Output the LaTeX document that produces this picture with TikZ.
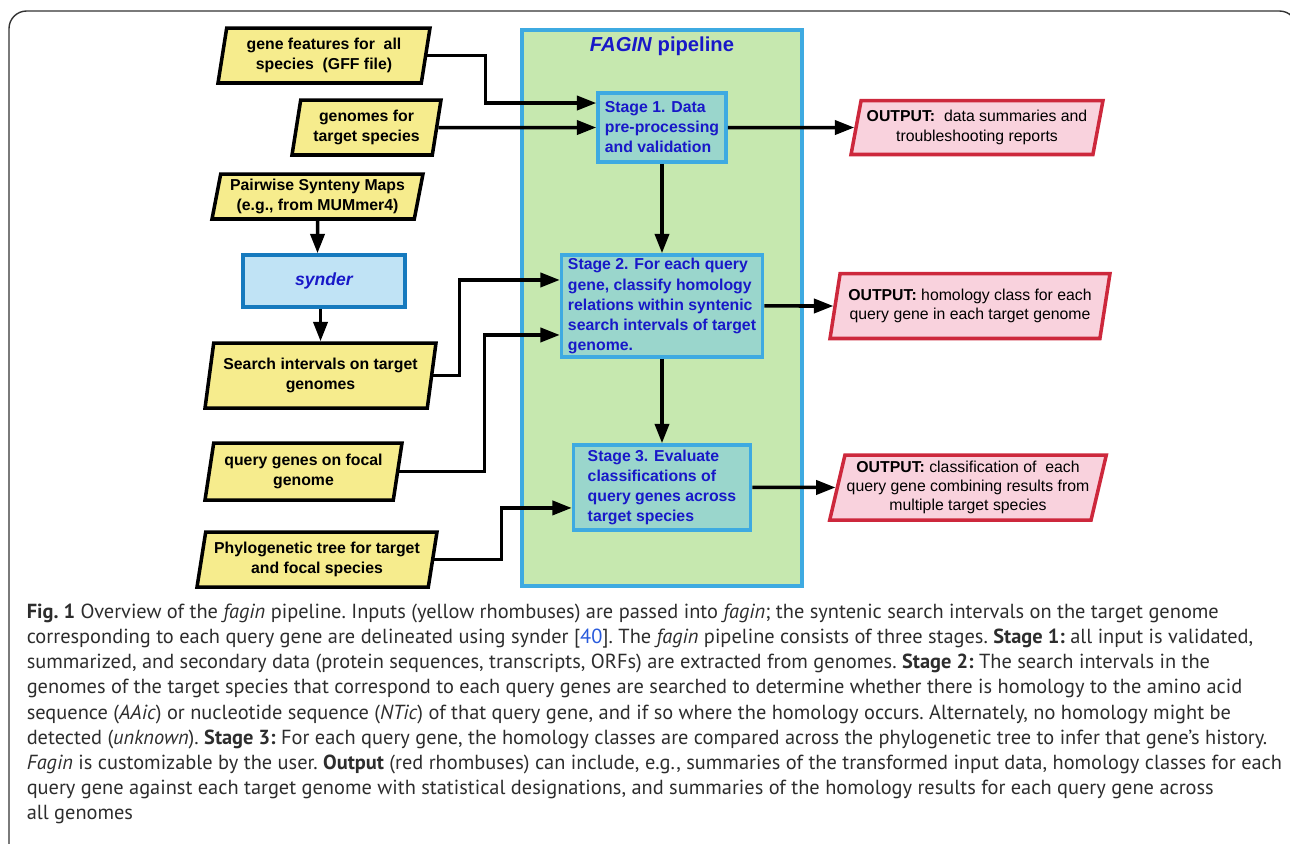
\documentclass[tikz,border=0pt]{standalone}
\usepackage{fontspec}
\setmainfont{Liberation Sans}
\newfontfamily\capfont{PT Sans}
\usetikzlibrary{arrows.meta,shapes.geometric,calc}

\definecolor{inyellow}{RGB}{246,236,141}
\definecolor{outpink}{RGB}{249,210,221}
\definecolor{outred}{RGB}{205,40,60}
\definecolor{pipegreen}{RGB}{198,232,175}
\definecolor{pipeblue}{RGB}{62,170,225}
\definecolor{stagefill}{RGB}{154,214,204}
\definecolor{synfill}{RGB}{192,227,245}
\definecolor{synblue}{RGB}{22,122,190}
\definecolor{textblue}{RGB}{24,24,200}
\definecolor{capgray}{RGB}{45,45,45}
\definecolor{linkblue}{RGB}{40,90,220}

\begin{document}
\begin{tikzpicture}[x=0.02cm,y=-0.02cm,>={Triangle[length=11pt,width=8pt]},line width=2pt,
  every node/.style={font=\fontsize{9}{11}\selectfont\bfseries},
  input/.style={trapezium,trapezium left angle=77,trapezium right angle=103,trapezium stretches body,draw=black,fill=inyellow,align=center,inner sep=1pt},
  output/.style={trapezium,trapezium left angle=75,trapezium right angle=105,trapezium stretches body,draw=outred,fill=outpink,align=center,inner sep=1pt,font=\fontsize{9}{11}\selectfont},
  stage/.style={rectangle,draw=pipeblue,fill=stagefill,text=textblue,align=left,inner sep=2pt,font=\fontsize{9}{11.4}\selectfont\bfseries}]
  \useasboundingbox (0,0) rectangle (1290,843);
  \clip (0,0) rectangle (1290,843);
  \draw[line width=0.8pt,black!80,rounded corners=10] (9,900) -- (9,11) -- (1297,11) -- (1297,900);

  % pipeline box with the three stages
  \node[draw=pipeblue,fill=pipegreen,minimum width=5.6cm,minimum height=11.12cm,inner sep=0pt] (pipe) at (662,308) {};
  \node[text=textblue,font=\fontsize{11.5}{13}\selectfont\bfseries] (title) at (662,46) {\textit{FAGIN} pipeline};
  \node[stage,minimum width=2.56cm,minimum height=1.38cm] (s1) at (662,127.5) {Stage 1. Data\\pre-processing\\and validation};
  \node[stage,minimum width=4.02cm,minimum height=2.04cm,below of=s1,node distance=3.57cm] (s2) {Stage 2. For each query\\gene, classify homology\\relations within syntenic\\search intervals of target\\genome.};
  \node[stage,minimum width=3.54cm,minimum height=1.7cm,below of=s2,node distance=3.63cm] (s3) {Stage 3. Evaluate\\classifications of\\query genes across\\target species};

  \node[input,minimum width=4.24cm,minimum height=1.1cm] (gff) at (324,55.5) {gene features for\ \ all\\species\ \ (GFF file)};
  \node[input,minimum width=2.98cm,minimum height=1.1cm] (gen) at (366.5,127.5) {genomes for\\target species};
  \node[input,minimum width=4.22cm,minimum height=0.9cm] (maps) at (317.5,196.5) {Pairwise Synteny Maps\\(e.g., from MUMmer4)};
  \node[draw=synblue,fill=synfill,text=textblue,minimum width=3.24cm,minimum height=1.04cm,font=\fontsize{10}{12}\selectfont\bfseries\itshape] (syn) at (324,281) {synder};
  \node[input,minimum width=4.62cm,minimum height=1.3cm] (ivl) at (320.5,375.5) {Search intervals on target\\genomes};
  \node[input,minimum width=3.94cm,minimum height=1.14cm] (qry) at (303.5,471.5) {query genes on focal\\genome};
  \node[input,minimum width=4.8cm,minimum height=1.1cm] (tree) at (317,559.5) {Phylogenetic tree for target\\and focal species};

  \node[output,minimum width=5.04cm,minimum height=1.08cm] (o1) at (977,127.5) {\textbf{OUTPUT:}\ \ data summaries and\\troubleshooting reports};
  \node[output,minimum width=5.6cm,minimum height=1.3cm] (o2) at (970,306) {\textbf{OUTPUT:} homology class for each\\query gene in each target genome};
  \node[output,minimum width=5.4cm,minimum height=1.3cm] (o3) at (968,487.5) {\textbf{OUTPUT:} classification of\ \ each\\query gene combining results from\\multiple target species};

  \path[->]
    (s1) edge (s2)
    (s2) edge (s3)
    (s1) edge (o1)
    (s2) edge (o2)
    (s3) edge (o3)
    (gen) edge (gen -| s1.west)
    (maps) edge (maps |- syn.north)
    (ivl.north |- syn.south) edge (ivl.north);
  \draw[->] (gff.east) -- ++(58,0) |- ($(s1.west)+(0,-24.5)$);
  \draw[->] (ivl.east) -- ++(26,0) |- ($(s2.west)+(0,-26)$);
  \draw[->] (qry.east) -- ++(85,0) |- ($(s2.west)+(0,29)$);
  \draw[->] (tree.east) -- ++(67,0) |- ($(s3.west)+(0,20.5)$);

  \node[anchor=north west,inner sep=0pt,align=left,text=capgray,font=\capfont\frenchspacing\fontsize{11.6}{14.35}\selectfont] (cap) at (25,602) {%
\textbf{Fig. 1} Overview of the \textit{fagin} pipeline. Inputs (yellow rhombuses) are passed into \textit{fagin}; the syntenic search intervals on the target genome\\
corresponding to each query gene are delineated using synder [\textcolor{linkblue}{40}]. The \textit{fagin} pipeline consists of three stages. \textbf{Stage 1:} all input is validated,\\
summarized, and secondary data (protein sequences, transcripts, ORFs) are extracted from genomes. \textbf{Stage 2:} The search intervals in the\\
genomes of the target species that correspond to each query genes are searched to determine whether there is homology to the amino acid\\
sequence (\textit{AAic}) or nucleotide sequence (\textit{NTic}) of that query gene, and if so where the homology occurs. Alternately, no homology might be\\
detected (\textit{unknown}). \textbf{Stage 3:} For each query gene, the homology classes are compared across the phylogenetic tree to infer that gene’s history.\\
\textit{Fagin} is customizable by the user. \textbf{Output} (red rhombuses) can include, e.g., summaries of the transformed input data, homology classes for each\\
query gene against each target genome with statistical designations, and summaries of the homology results for each query gene across\\
all genomes};
\end{tikzpicture}
\end{document}
